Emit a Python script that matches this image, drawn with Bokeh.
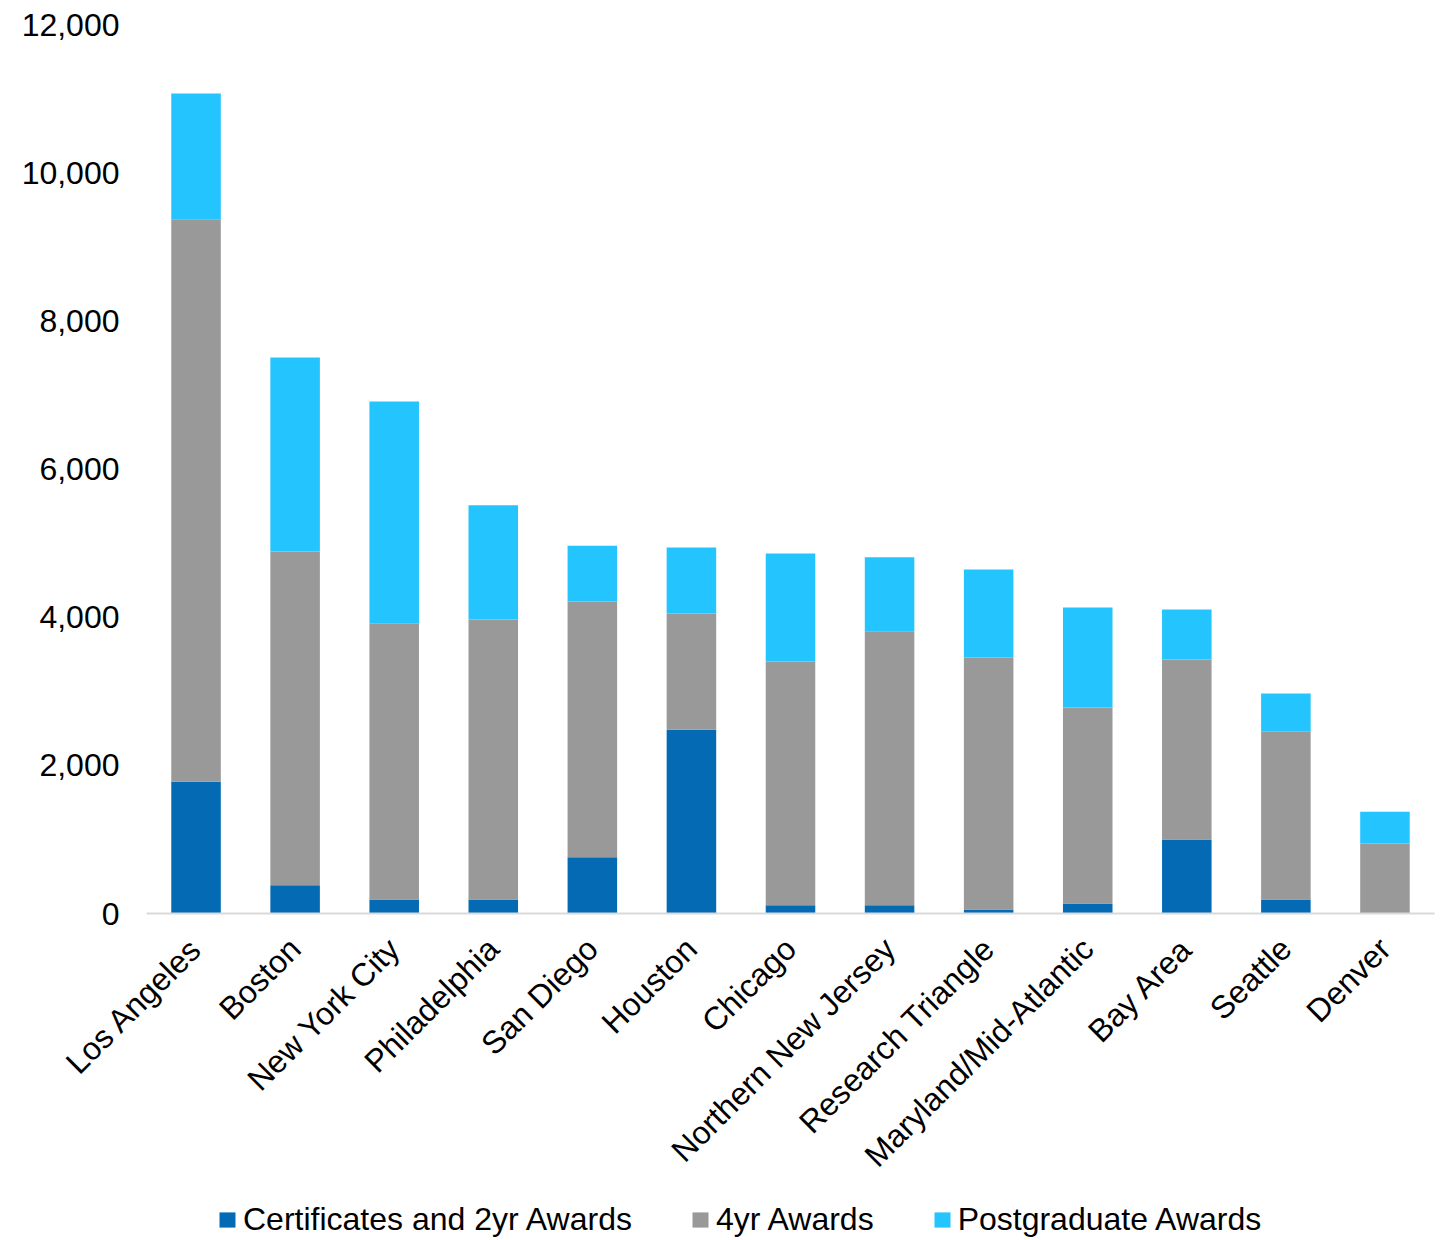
import math
from bokeh.plotting import figure
from bokeh.layouts import column
from bokeh.models import (Range1d, FixedTicker, NumeralTickFormatter, FactorRange,
                          Legend, LegendItem)
from bokeh.embed import file_html
from bokeh.resources import INLINE

regions = ["Los Angeles", "Boston", "New York City", "Philadelphia", "San Diego",
           "Houston", "Chicago", "Northern New Jersey", "Research Triangle",
           "Maryland/Mid-Atlantic", "Bay Area", "Seattle", "Denver"]
cert_2yr = [1780, 380, 190, 190, 760, 2480, 110, 110, 55, 135, 1000, 190, 0]
four_yr = [7590, 4505, 3720, 3780, 3450, 1570, 3290, 3700, 3400, 2645, 2430, 2265, 945]
postgrad = [1700, 2620, 3000, 1540, 755, 890, 1460, 1000, 1190, 1350, 675, 515, 430]
series_names = ["Certificates and 2yr Awards", "4yr Awards", "Postgraduate Awards"]
series_keys = ["cert", "four", "post"]
colors = ["#056AB4", "#999999", "#24C4FF"]
y_ticks = [0, 2000, 4000, 6000, 8000, 10000, 12000]

FONT = "Liberation Sans"
FS = "32px"

p = figure(x_range=FactorRange(*regions), y_range=Range1d(0, 12000),
           width=1453, height=1195, output_backend="svg", toolbar_location=None,
           min_border_left=146, min_border_right=19, min_border_top=24,
           min_border_bottom=282)

data = dict(region=regions, cert=cert_2yr, four=four_yr, post=postgrad)
p.vbar_stack(series_keys, x="region", width=0.5, source=data, color=colors,
             line_color=None)

p.x_range.range_padding = 0
p.xgrid.visible = False
p.ygrid.visible = False
p.outline_line_color = None
p.background_fill_color = "white"
p.border_fill_color = "white"

yax = p.yaxis[0]
yax.ticker = FixedTicker(ticks=y_ticks)
yax.formatter = NumeralTickFormatter(format="0,0")
yax.axis_line_color = None
yax.major_tick_line_color = None
yax.minor_tick_line_color = None
yax.major_tick_out = 0
yax.major_label_standoff = 27
yax.major_label_text_font = FONT
yax.major_label_text_font_size = FS
yax.major_label_text_color = "black"

xax = p.xaxis[0]
xax.axis_line_color = "#D9D9D9"
xax.axis_line_width = 2
xax.major_tick_line_color = None
xax.minor_tick_line_color = None
xax.major_tick_out = 0
xax.major_label_orientation = math.pi / 4
xax.major_label_standoff = 30
xax.major_label_text_font = FONT
xax.major_label_text_font_size = FS
xax.major_label_text_color = "black"

# legend strip below the chart (its frame is aligned with the chart frame)
lp = figure(x_range=Range1d(0, 1), y_range=Range1d(0, 1), width=1453, height=45,
            output_backend="svg", toolbar_location=None, x_axis_type=None,
            y_axis_type=None, min_border=0, min_border_left=146, min_border_right=19,
            min_border_top=0, min_border_bottom=0)
lp.outline_line_color = None
lp.xgrid.visible = False
lp.ygrid.visible = False
items = []
for name, c in zip(series_names, colors):
    r = lp.vbar(x=[float("nan")], top=[float("nan")], width=0.5, color=c, line_color=None)
    items.append(LegendItem(label=name, renderers=[r]))
lg = Legend(items=items, orientation="horizontal", location=(71, 2),
            border_line_color=None, background_fill_alpha=0, padding=0, margin=0,
            spacing=58, glyph_width=20, glyph_height=19, label_standoff=6,
            label_text_font=FONT, label_text_font_size=FS, label_text_color="black")
lp.add_layout(lg)

layout = column(p, lp, spacing=0)
open("out.html", "w").write(file_html(layout, INLINE))
